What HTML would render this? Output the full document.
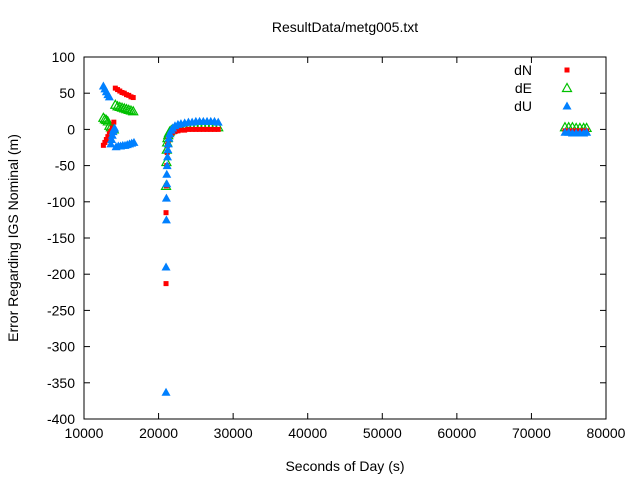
<!DOCTYPE html>
<html><head><meta charset="utf-8"><style>
body{margin:0;background:#fff}
svg{display:block;font-family:"Liberation Sans",sans-serif}
</style></head><body>
<svg id="chart" width="640" height="480" viewBox="0 0 640 480">
<g id="axes"></g><g id="marks"></g><g id="legend"></g>
</svg>
<script>
const xTicks=[10000,20000,30000,40000,50000,60000,70000,80000];
const yTicks=[100,50,0,-50,-100,-150,-200,-250,-300,-350,-400];
const dNx=[12600,12800,13000,13200,13400,13600,13800,14000,14200,14500,14800,15100,15400,15700,16000,16300,16600,21000,21000,21050,21100,21150,21200,21300,21400,21500,21700,21900,22200,22600,23000,23500,24000,24500,25000,25500,26000,26500,27000,27500,28000,74500,75000,75500,76000,76500,77000,77400];
const dNy=[-22,-18,-14,-10,-6,-3,2,10,57,55,53,51,50,48,47,45,44,-213,-115,-78,-50,-32,-22,-15,-11,-8,-6,-4,-3,-2,-1,-1,0,0,0,0,0,0,0,0,0,-2,-2,-2,-2,-2,-2,-2];
const dEx=[12600,12800,13000,13200,13400,13600,13800,14000,14200,14500,14800,15100,15400,15700,16000,16300,16600,21000,21050,21100,21150,21200,21300,21400,21500,21700,21900,22200,22600,23000,23500,24000,24500,25000,25500,26000,26500,27000,27500,28000,74500,75000,75500,76000,76500,77000,77400];
const dEy=[16,14,13,11,5,3,1,0,34,32,31,30,29,28,27,26,25,-78,-45,-28,-18,-12,-8,-5,-3,-1,0,1,2,2,3,3,3,3,3,3,3,3,3,3,3,3,3,2,2,2,2];
const dUx=[12600,12800,13000,13200,13400,13600,13700,13800,13900,14000,14100,14300,14600,14900,15200,15500,15800,16100,16400,16700,21000,21000,21050,21050,21100,21100,21150,21200,21250,21300,21400,21500,21700,21900,22200,22600,23000,23500,24000,24500,25000,25500,26000,26500,27000,27500,28000,74500,75000,75500,76000,76500,77000,77400];
const dUy=[60,56,52,48,45,-20,-14,-8,-3,0,2,-24,-23,-23,-22,-22,-21,-20,-19,-18,-363,-190,-125,-95,-75,-62,-50,-38,-28,-20,-12,-6,-1,2,5,7,8,9,10,10,11,11,11,11,11,11,10,-4,-4,-5,-5,-5,-5,-4];
const NS="http://www.w3.org/2000/svg";
const L=84,R=606,T=57,B=419;
const sx=v=>L+(v-10000)/70000*(R-L);
const sy=v=>T+(100-v)/500*(B-T);
function mk(tag,at,parent){const e=document.createElementNS(NS,tag);for(const k in at)e.setAttribute(k,at[k]);parent.appendChild(e);return e;}
const axes=document.getElementById('axes'),marks=document.getElementById('marks'),leg=document.getElementById('legend');
const frame=mk('rect',{x:L,y:T,width:R-L,height:B-T,fill:'none',stroke:'#000','stroke-width':1},axes);


xTicks.forEach(v=>{const x=sx(v);
 mk('line',{x1:x,y1:B,x2:x,y2:B-6,stroke:'#000'},axes);
 mk('line',{x1:x,y1:T,x2:x,y2:T+6,stroke:'#000'},axes);
 const t=mk('text',{x:x,y:B+19,'text-anchor':'middle','font-size':14},axes);t.textContent=v;
 
 });
yTicks.forEach(v=>{const y=sy(v);
 mk('line',{x1:L,y1:y,x2:L+6,y2:y,stroke:'#000'},axes);
 mk('line',{x1:R,y1:y,x2:R-6,y2:y,stroke:'#000'},axes);
 const t=mk('text',{x:L-9,y:y+5,'text-anchor':'end','font-size':14},axes);t.textContent=v;
 
 });
let t=mk('text',{x:345,y:32,'text-anchor':'middle','font-size':14},axes);t.textContent='ResultData/metg005.txt';


t=mk('text',{x:345,y:471,'text-anchor':'middle','font-size':14},axes);t.textContent='Seconds of Day (s)';


t=mk('text',{x:18,y:238,'text-anchor':'middle','font-size':14,transform:'rotate(-90 18 238)'},axes);t.textContent='Error Regarding IGS Nominal (m)';


function sq(x,y,p,n){const e=mk('rect',{x:x-2.5,y:y-2.5,width:5,height:5,fill:'#ff0000'},p);}
function tri(x,y,p,fill,n){const e=mk('polygon',{points:`${x},${y-4.5} ${x-4.5},${y+3.5} ${x+4.5},${y+3.5}`,fill:fill?'#0080ff':'none',stroke:fill?'#0080ff':'#00c000','stroke-width':fill?0:1.2},p);}
dEx.forEach((v,i)=>tri(sx(v),sy(dEy[i]),marks,false,'point-de'));
dNx.forEach((v,i)=>sq(sx(v),sy(dNy[i]),marks,'point-dn'));
dUx.forEach((v,i)=>tri(sx(v),sy(dUy[i]),marks,true,'point-du'));
[['dN',0],['dE',1],['dU',2]].forEach(([n,i])=>{const y=70+i*18;
 const tt=mk('text',{x:532,y:y+5,'text-anchor':'end','font-size':14},leg);tt.textContent=n;
 
 
 if(i==0)sq(567,y,leg,'legend-marker-dn');else tri(567,y,leg,i==2,'legend-marker-'+n.toLowerCase());});
</script>
</body></html>
